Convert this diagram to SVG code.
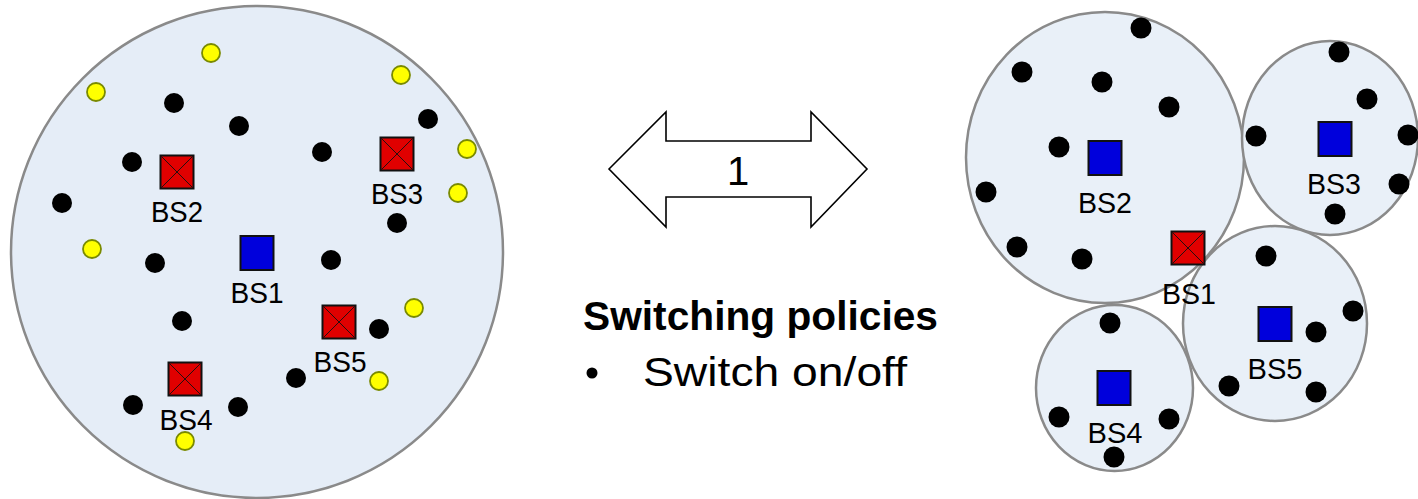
<svg xmlns="http://www.w3.org/2000/svg" width="1418" height="499" viewBox="0 0 1418 499">
  <style>
    .cell { fill: #e5edf7; stroke: #8a8a8a; stroke-width: 2.5; }
    .cell-r { fill: #e9f0f8; stroke: #8a8a8a; stroke-width: 2.5; }
    .ue { fill: #000; }
    .idle { fill: #ffff00; stroke: #7a8a00; stroke-width: 1.8; }
    .bs-on { fill: #0000dc; stroke: #111; stroke-width: 2; }
    .bs-off { fill: #e00000; stroke: #111; stroke-width: 2; }
    .x { stroke: #111; stroke-width: 0.9; fill: none; }
    .lbl { font-family: "Liberation Sans", Arial, sans-serif; font-size: 30px; fill: #000; text-anchor: middle; }
    .big { font-family: "Liberation Sans", Arial, sans-serif; fill: #000; }
  </style>
  <defs>
    <g id="off-mark">
      <rect class="bs-off" x="-16.5" y="-16.5" width="33" height="33"/>
      <path class="x" d="M-15.5 -15.5 L15.5 15.5 M15.5 -15.5 L-15.5 15.5"/>
    </g>
    <rect id="on-mark" class="bs-on" x="-16.5" y="-17" width="33" height="34"/>
    <circle id="ue" class="ue" r="10"/>
    <circle id="ue-r" class="ue" r="10.5"/>
    <circle id="idle" class="idle" r="9"/>
  </defs>

  <!-- Left: single macro cell, small cells switched off -->
  <g id="macro-area">
    <circle class="cell" cx="257" cy="252" r="246"/>
    <g id="idle-users">
      <use href="#idle" x="211" y="53"/>
      <use href="#idle" x="96" y="92"/>
      <use href="#idle" x="401" y="75"/>
      <use href="#idle" x="467" y="149"/>
      <use href="#idle" x="458" y="193"/>
      <use href="#idle" x="92" y="249"/>
      <use href="#idle" x="414" y="308"/>
      <use href="#idle" x="379" y="381"/>
      <use href="#idle" x="185" y="441"/>
    </g>
    <g id="active-users-left">
      <use href="#ue" x="174" y="103"/>
      <use href="#ue" x="239" y="126"/>
      <use href="#ue" x="132" y="162"/>
      <use href="#ue" x="62" y="203"/>
      <use href="#ue" x="322" y="152"/>
      <use href="#ue" x="428" y="119"/>
      <use href="#ue" x="397" y="223"/>
      <use href="#ue" x="155" y="263"/>
      <use href="#ue" x="331" y="260"/>
      <use href="#ue" x="182" y="321"/>
      <use href="#ue" x="379" y="329"/>
      <use href="#ue" x="296" y="378"/>
      <use href="#ue" x="133" y="405"/>
      <use href="#ue" x="238" y="407"/>
    </g>
  </g>
  <g id="L-BS1">
    <use href="#on-mark" x="257" y="253"/>
    <text class="lbl" x="257" y="303" textLength="53" lengthAdjust="spacingAndGlyphs">BS1</text>
  </g>
  <g id="L-BS2">
    <use href="#off-mark" x="177" y="172"/>
    <text class="lbl" x="177" y="222" textLength="52" lengthAdjust="spacingAndGlyphs">BS2</text>
  </g>
  <g id="L-BS3">
    <use href="#off-mark" x="397" y="154"/>
    <text class="lbl" x="397" y="204" textLength="52" lengthAdjust="spacingAndGlyphs">BS3</text>
  </g>
  <g id="L-BS4">
    <use href="#off-mark" x="185" y="379"/>
    <text class="lbl" x="186" y="430" textLength="53" lengthAdjust="spacingAndGlyphs">BS4</text>
  </g>
  <g id="L-BS5">
    <use href="#off-mark" x="339" y="322"/>
    <text class="lbl" x="340" y="372" textLength="53" lengthAdjust="spacingAndGlyphs">BS5</text>
  </g>

  <!-- Transition between the two configurations -->
  <g id="connectors">
    <polygon points="609,169 666,112 666,141 811,141 811,112 867,169 811,227 811,197 666,197 666,227" fill="#fff" stroke="#000" stroke-width="1.6" stroke-linejoin="miter"/>
    <text class="big" x="738" y="185" font-size="40" text-anchor="middle">1</text>
  </g>

  <g id="policy-text">
    <text class="big" x="583" y="330" font-size="41" font-weight="bold" textLength="355" lengthAdjust="spacingAndGlyphs">Switching policies</text>
    <circle cx="592" cy="373" r="5.5" fill="#000"/>
    <text class="big" x="643" y="386" font-size="41" textLength="264" lengthAdjust="spacingAndGlyphs">Switch on/off</text>
  </g>

  <!-- Right: small cells switched on, macro cell switched off -->
  <g id="R-cells">
    <ellipse class="cell-r" cx="1105" cy="157.5" rx="139" ry="145.5"/>
    <ellipse class="cell-r" cx="1330" cy="138" rx="88" ry="97"/>
    <ellipse class="cell-r" cx="1275" cy="323.5" rx="92" ry="97.5"/>
    <ellipse class="cell-r" cx="1114.5" cy="388" rx="78.5" ry="83"/>
  </g>
  <g id="R-BS2">
    <use href="#ue-r" x="1141" y="28"/>
    <use href="#ue-r" x="1022" y="72"/>
    <use href="#ue-r" x="1102" y="82"/>
    <use href="#ue-r" x="1169" y="107"/>
    <use href="#ue-r" x="1059" y="147"/>
    <use href="#ue-r" x="986" y="192"/>
    <use href="#ue-r" x="1017" y="247"/>
    <use href="#ue-r" x="1082" y="259"/>
    <use href="#on-mark" x="1105" y="158"/>
    <text class="lbl" x="1105" y="213" textLength="54" lengthAdjust="spacingAndGlyphs">BS2</text>
  </g>
  <g id="R-BS3">
    <use href="#ue-r" x="1339" y="52"/>
    <use href="#ue-r" x="1367" y="99"/>
    <use href="#ue-r" x="1256" y="136"/>
    <use href="#ue-r" x="1408" y="135"/>
    <use href="#ue-r" x="1399" y="184"/>
    <use href="#ue-r" x="1335" y="214"/>
    <use href="#on-mark" x="1335" y="139"/>
    <text class="lbl" x="1334" y="194" textLength="54" lengthAdjust="spacingAndGlyphs">BS3</text>
  </g>
  <g id="R-BS5">
    <use href="#ue-r" x="1266" y="256"/>
    <use href="#ue-r" x="1353" y="311"/>
    <use href="#ue-r" x="1316" y="332"/>
    <use href="#ue-r" x="1229" y="386"/>
    <use href="#ue-r" x="1316" y="392"/>
    <use href="#on-mark" x="1275" y="324"/>
    <text class="lbl" x="1275" y="379" textLength="55" lengthAdjust="spacingAndGlyphs">BS5</text>
  </g>
  <g id="R-BS4">
    <use href="#ue-r" x="1110" y="323"/>
    <use href="#ue-r" x="1059" y="417"/>
    <use href="#ue-r" x="1169" y="419"/>
    <use href="#ue-r" x="1114" y="457"/>
    <use href="#on-mark" x="1114" y="388"/>
    <text class="lbl" x="1115" y="443" textLength="55" lengthAdjust="spacingAndGlyphs">BS4</text>
  </g>
  <g id="R-BS1">
    <use href="#off-mark" x="1188" y="248"/>
    <text class="lbl" x="1189" y="304" textLength="54" lengthAdjust="spacingAndGlyphs">BS1</text>
  </g>
</svg>
